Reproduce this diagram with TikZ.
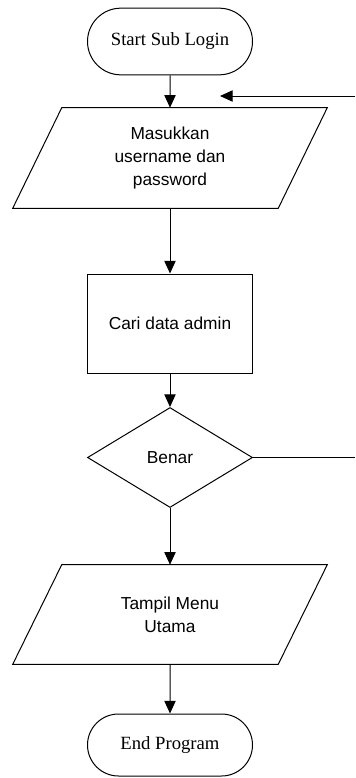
\documentclass[tikz,border=0pt]{standalone}
\usepackage{fontspec}
\setmainfont{Liberation Sans}
\newfontfamily\serifface{Liberation Serif}
\usetikzlibrary{shapes.geometric,shapes.misc,arrows.meta,calc}
\begin{document}
\begin{tikzpicture}[x=0.75pt,y=-0.75pt,
  every node/.style={font=\fontsize{13}{17}\selectfont, align=center},
  term/.style={draw, line width=0.75pt, rounded rectangle, minimum width=123.75pt, minimum height=50pt, inner sep=0pt, font=\serifface\fontsize{14}{17}\selectfont},
  procbox/.style={draw, line width=0.75pt, rectangle, minimum width=123.75pt, minimum height=74.25pt, inner sep=0pt},
  iobox/.style={draw=none, rectangle, minimum width=198.75pt, minimum height=75pt, inner sep=0pt},
  iooutline/.style={line width=0.75pt},
  decide/.style={draw, line width=0.75pt, diamond, minimum width=123.75pt, minimum height=75pt, inner sep=0pt},
  conn/.style={line width=0.75pt, -{Triangle[length=9.5pt,width=8.5pt]}},
  plain/.style={line width=0.75pt}]
\useasboundingbox (0,0) rectangle (355,778);
\node[term] (start) at (170,41.5) {Start Sub Login};
\node[iobox] (in) at (170,158) {Masukkan\\username dan\\password};
\draw[iooutline] ($(in.north west)+(24.5,0)$) -- ($(in.north east)+(24.5,0)$) -- ($(in.south east)+(-24.5,0)$) -- ($(in.south west)+(-24.5,0)$) -- cycle;
\node[procbox] (cari) at (170,323.5) {Cari data admin};
\node[decide] (benar) at (170,457.5) {Benar};
\node[iobox, minimum height=74.25pt] (out) at (170,614.5) {Tampil Menu\\Utama};
\draw[iooutline] ($(out.north west)+(24.5,0)$) -- ($(out.north east)+(24.5,0)$) -- ($(out.south east)+(-24.5,0)$) -- ($(out.south west)+(-24.5,0)$) -- cycle;
\node[term, minimum height=46.5pt] (end) at (170,745) {End Program};
\coordinate (loopA) at (355,457.5);
\coordinate (loopB) at (355,96);
\coordinate (loopTip) at (220,96);
\draw[conn] (start) -- (in);
\draw[conn] (in) -- (cari);
\draw[conn] (cari) -- (benar);
\draw[conn] (benar) -- (out);
\draw[conn] (out) -- (end);
\draw[plain] (benar.east) -- (loopA);
\draw[conn] (loopB) -- (loopTip);
\end{tikzpicture}
\end{document}
